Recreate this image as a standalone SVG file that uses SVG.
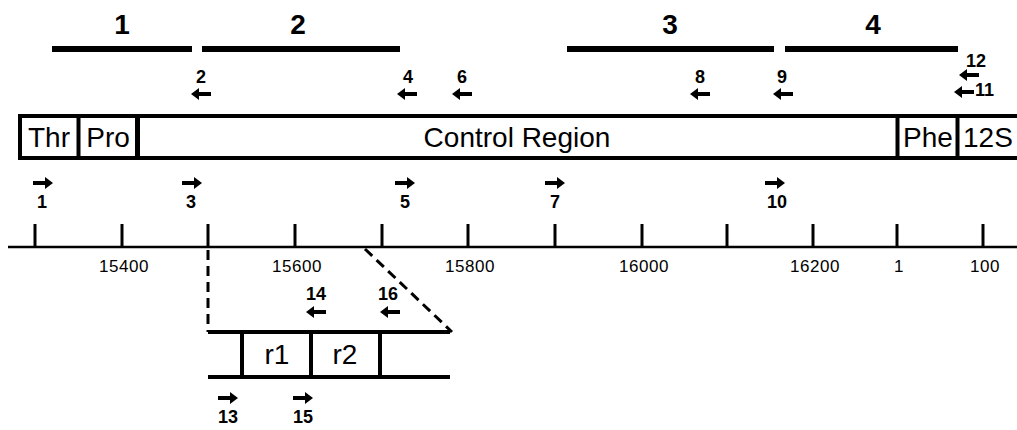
<svg xmlns="http://www.w3.org/2000/svg" xmlns:xlink="http://www.w3.org/1999/xlink" width="1017" height="430" viewBox="0 0 1017 430">
<style>
.bar{stroke:#000;stroke-width:6;fill:none}
.ln{stroke:#000;stroke-width:4;fill:none}
.tick{stroke:#000;stroke-width:3;fill:none}
.dash{stroke:#000;stroke-width:3;fill:none;stroke-dasharray:10 6}
.big{font-family:"Liberation Sans",Arial,sans-serif;font-weight:bold;font-size:28px;text-anchor:middle}
.seg{font-family:"Liberation Sans",Arial,sans-serif;font-size:28px;text-anchor:middle}
.pn{font-family:"Liberation Sans",Arial,sans-serif;font-weight:bold;font-size:18px;text-anchor:middle}
.sc{font-family:"Liberation Sans",Arial,sans-serif;font-size:17px;text-anchor:middle;letter-spacing:0.5px}
</style>
<defs>
<polygon id="la" points="0,0 8,-6 8,-1.9 20,-1.9 20,1.9 8,1.9 8,6" fill="#000"/>
<polygon id="ra" points="0,0 -8,-6 -8,-1.9 -20,-1.9 -20,1.9 -8,1.9 -8,6" fill="#000"/>
</defs>
<rect width="1017" height="430" fill="#fff"/>

<g id="fragments">
<line class="bar" x1="52" y1="49" x2="192" y2="49"/>
<line class="bar" x1="202" y1="49" x2="400" y2="49"/>
<line class="bar" x1="567" y1="49" x2="774" y2="49"/>
<line class="bar" x1="785" y1="49" x2="958" y2="49"/>
<text class="big" x="122" y="34">1</text>
<text class="big" x="298" y="34">2</text>
<text class="big" x="670" y="34">3</text>
<text class="big" x="873" y="34">4</text>
</g>

<g id="gene-map">
<line class="ln" x1="18" y1="116" x2="1017" y2="116"/>
<line class="ln" x1="18" y1="158" x2="1017" y2="158"/>
<line class="ln" x1="20" y1="114" x2="20" y2="160"/>
<line class="ln" x1="78.5" y1="116" x2="78.5" y2="158"/>
<line class="ln" x1="137.5" y1="116" x2="137.5" y2="158" style="stroke-width:5"/>
<line class="ln" x1="897.5" y1="116" x2="897.5" y2="158"/>
<line class="ln" x1="957.5" y1="116" x2="957.5" y2="158"/>
<text class="seg" x="49" y="147">Thr</text>
<text class="seg" x="108" y="147">Pro</text>
<text class="seg" x="517" y="147">Control Region</text>
<text class="seg" x="928" y="147">Phe</text>
<text class="seg" x="963" y="147" style="text-anchor:start">12S</text>
</g>

<g id="primers-reverse">
<use xlink:href="#la" x="191" y="94"/><text class="pn" x="201" y="83">2</text>
<use xlink:href="#la" x="397" y="94"/><text class="pn" x="408" y="83">4</text>
<use xlink:href="#la" x="452" y="94"/><text class="pn" x="462" y="83">6</text>
<use xlink:href="#la" x="690" y="94"/><text class="pn" x="700" y="83">8</text>
<use xlink:href="#la" x="773" y="94"/><text class="pn" x="782" y="83">9</text>
<use xlink:href="#la" x="959" y="75"/><text class="pn" x="966" y="67" style="text-anchor:start">12</text>
<use xlink:href="#la" x="954" y="92"/><text class="pn" x="975" y="96" style="text-anchor:start">11</text>
<use xlink:href="#la" x="306" y="312"/><text class="pn" x="316" y="300">14</text>
<use xlink:href="#la" x="380" y="312"/><text class="pn" x="388" y="300">16</text>
</g>

<g id="primers-forward">
<use xlink:href="#ra" x="53" y="183"/><text class="pn" x="42" y="208">1</text>
<use xlink:href="#ra" x="202" y="183"/><text class="pn" x="191" y="208">3</text>
<use xlink:href="#ra" x="415" y="183"/><text class="pn" x="405" y="208">5</text>
<use xlink:href="#ra" x="565" y="183"/><text class="pn" x="555" y="208">7</text>
<use xlink:href="#ra" x="785" y="183"/><text class="pn" x="777" y="208">10</text>
<use xlink:href="#ra" x="238" y="398"/><text class="pn" x="228" y="423">13</text>
<use xlink:href="#ra" x="313" y="398"/><text class="pn" x="303" y="423">15</text>
</g>

<g id="scale">
<line x1="8" y1="247" x2="1017" y2="247" stroke="#000" stroke-width="2.5"/>
<line class="tick" x1="35" y1="224" x2="35" y2="247"/>
<line class="tick" x1="122" y1="224" x2="122" y2="247"/>
<line class="tick" x1="208" y1="224" x2="208" y2="247"/>
<line class="tick" x1="295" y1="224" x2="295" y2="247"/>
<line class="tick" x1="382" y1="224" x2="382" y2="247"/>
<line class="tick" x1="468" y1="224" x2="468" y2="247"/>
<line class="tick" x1="555" y1="224" x2="555" y2="247"/>
<line class="tick" x1="642" y1="224" x2="642" y2="247"/>
<line class="tick" x1="727" y1="224" x2="727" y2="247"/>
<line class="tick" x1="813" y1="224" x2="813" y2="247"/>
<line class="tick" x1="897" y1="224" x2="897" y2="247"/>
<line class="tick" x1="983" y1="224" x2="983" y2="247"/>
<text class="sc" x="124" y="272">15400</text>
<text class="sc" x="297" y="272">15600</text>
<text class="sc" x="470" y="272">15800</text>
<text class="sc" x="644" y="272">16000</text>
<text class="sc" x="815" y="272">16200</text>
<text class="sc" x="899" y="272">1</text>
<text class="sc" x="985" y="272">100</text>
</g>

<g id="connectors">
<line class="dash" x1="208" y1="250" x2="208" y2="332"/>
<line class="dash" x1="365" y1="249" x2="452" y2="332"/>
</g>

<g id="inset">
<line class="ln" x1="208" y1="332" x2="450" y2="332"/>
<line class="ln" x1="208" y1="377" x2="450" y2="377"/>
<line class="ln" x1="242" y1="332" x2="242" y2="377"/>
<line class="ln" x1="311" y1="332" x2="311" y2="377"/>
<line class="ln" x1="380" y1="332" x2="380" y2="377"/>
<text class="seg" x="277" y="364">r1</text>
<text class="seg" x="345" y="364">r2</text>
</g>
</svg>
